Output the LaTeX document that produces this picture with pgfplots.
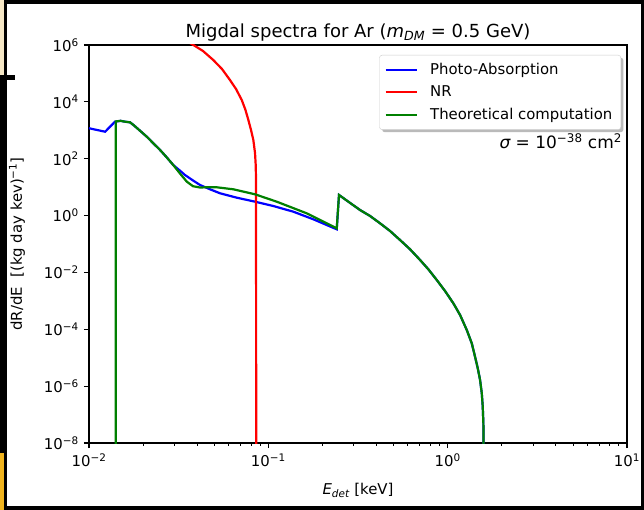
\documentclass[border=0pt]{standalone}
\usepackage{fontspec}
\setmainfont{DejaVu Sans}
\usepackage{pgfplots}
\pgfplotsset{compat=1.18}
\usetikzlibrary{shadows}

\definecolor{mplgreen}{rgb}{0,0.5,0}
\definecolor{beige}{HTML}{F6E7C5}
\definecolor{gold}{HTML}{F0B41E}
\newcommand{\tk}{\fontsize{14.9bp}{17bp}\selectfont}
\newcommand{\msup}[1]{\textsuperscript{#1}}
% keep the legend's drop shadow off the entries inside it
\makeatletter
\tikzset{nopre/.code={\let\tikz@preactions\pgfutil@empty}}
\makeatother

% blue: photo-absorption
\pgfplotstableread{
x y
0.0100 1180
0.0123 890
0.01396 2005
0.0150 2150
0.0159 2005
0.01693 1910
0.0177 1535
0.01925 968
0.0210 595
0.02284 349
0.0249 203
0.02712 112
0.0295 60
0.03218 37.9
0.0343 26.7
0.03817 16.9
0.0416 11.9
0.0473 8.4
0.0538 6.08
0.06664 4.26
0.0843 3.08
0.1066 2.17
0.1378 1.37
0.1782 0.740
0.2407 0.329
0.2478 5.3
0.2794 3.08
0.3246 1.57
0.3693 0.966
0.4198 0.535
0.4772 0.287
0.5427 0.138
0.6170 0.0652
0.7017 0.0274
0.7806 0.0129
0.8694 5.42e-3
0.9672 2.22e-3
1.076 8.2e-4
1.173 3.18e-4
1.278 9.44e-5
1.363 3.21e-5
1.421 1.09e-5
1.472 4.25e-6
1.516 1.65e-6
1.550 5.6e-7
1.569 1.9e-7
1.582 4.9e-8
1.590 1e-9
}\photo

% red: NR
\pgfplotstableread{
x y
0.0300 2.5e6
0.0382 1e6
0.04323 6.15e5
0.0493 2.97e5
0.05517 1.43e5
0.0611 5.87e4
0.06605 2.83e4
0.0711 1.16e4
0.07459 5.18e3
0.0774 2.30e3
0.08009 1.02e3
0.0825 455
0.0843 159
0.08505 60
0.0854 17.8
0.0856 1e-9
}\nr

% green: theoretical computation
\pgfplotstableread{
x y
0.01410 1e-9
0.01411 2050
0.0150 2150
0.0159 2005
0.01693 1910
0.0177 1535
0.01925 968
0.0210 595
0.02284 349
0.0249 203
0.02712 112
0.0295 60
0.0322 30
0.0351 15.6
0.0380 10.8
0.0416 9.7
0.0470 10.0
0.0515 9.9
0.0638 8.4
0.0843 5.6
0.1114 3.08
0.1637 1.2
0.2407 0.357
0.2478 5.3
0.2794 3.08
0.3246 1.57
0.3693 0.966
0.4198 0.535
0.4772 0.287
0.5427 0.138
0.6170 0.0652
0.7017 0.0274
0.7806 0.0129
0.8694 5.42e-3
0.9672 2.22e-3
1.076 8.2e-4
1.173 3.18e-4
1.278 9.44e-5
1.363 3.21e-5
1.421 1.09e-5
1.472 4.25e-6
1.516 1.65e-6
1.550 5.6e-7
1.569 1.9e-7
1.582 4.9e-8
1.591 1e-9
}\theory

\begin{document}
\begin{tikzpicture}
\useasboundingbox (0,0) rectangle (644bp,510bp);
% slide frame around the figure
\fill[black] (0,0) rectangle (644bp,510bp);
\fill[beige] (0,435bp) rectangle (4bp,510bp);
\fill[gold] (0,0) rectangle (4bp,57bp);
\fill[white] (7bp,4bp) rectangle (641bp,506bp);
\fill[black] (0,430bp) rectangle (15bp,435bp);

\begin{axis}[
    at={(89bp,67bp)}, anchor=south west,
    scale only axis,
    width=538bp, height=398bp,
    xmode=log, ymode=log,
    xmin=0.01, xmax=10,
    ymin=1e-8, ymax=1e6,
    xtick={0.01,0.1,1,10},
    xticklabels={10\msup{−2},10\msup{−1},10\msup{0},10\msup{1}},
    ytick={1e-8,1e-6,1e-4,1e-2,1,1e2,1e4,1e6},
    yticklabels={10\msup{−8},10\msup{−6},10\msup{−4},10\msup{−2},10\msup{0},10\msup{2},10\msup{4},10\msup{6}},
    yminorticks=false,
    tick pos=left,
    tick align=outside,
    major tick length=5.2bp,
    minor tick length=3bp,
    every tick/.style={black, line width=1.19bp},
    minor tick style={line width=0.9bp},
    axis line style={line width=1.19bp},
    every tick label/.append style={font=\tk, inner sep=0pt},
    xticklabel style={yshift=-5bp},
    yticklabel style={xshift=-5bp},
    title={Migdal spectra for Ar ({\itshape m}\textsubscript{\itshape DM} = 0.5 GeV)},
    title style={font=\fontsize{18bp}{21bp}\selectfont, inner sep=0pt, yshift=-2.5bp},
    xlabel={{\itshape E}\textsubscript{\itshape det} [keV]},
    xlabel style={font=\tk, at={(rel axis cs:0.5,0)}, anchor=north, inner sep=0pt, yshift=-40bp},
    ylabel={dR/dE\ \ [(kg day kev)\msup{−1}]},
    ylabel style={font=\tk, at={(rel axis cs:-0.1338,0.5)}, anchor=center, inner sep=0pt},
    legend cell align=left,
    legend style={at={(rel axis cs:0.989,0.975)}, anchor=north east,
        draw=black!20, fill=white, rounded corners=2.8bp, font=\tk,
        drop shadow={shadow xshift=2.6bp, shadow yshift=-2.6bp, fill=black!45, opacity=0.6},
        inner xsep=5bp, inner ysep=3.5bp, row sep=0pt, column sep=9bp,
        nodes={nopre, inner sep=3.5bp, text height=12bp, text depth=3.5bp}},
    legend image code/.code={\draw[nopre, #1] (0bp,0bp) -- (31bp,0bp);},
    no markers,
]
\addplot[blue, line width=2.2bp] table[x=x, y=y] {\photo};
\addlegendentry{Photo-Absorption}
\addplot[red, line width=2.2bp] table[x=x, y=y] {\nr};
\addlegendentry{NR}
\addplot[mplgreen, line width=2.2bp] table[x=x, y=y] {\theory};
\addlegendentry{Theoretical computation}

\node[anchor=east, inner sep=0pt, font=\fontsize{17bp}{20bp}\selectfont]
    at (rel axis cs:0.991,0.758) {{\itshape σ}\ =\ 10\msup{−38} cm\msup{2}};
\end{axis}
\end{tikzpicture}
\end{document}
